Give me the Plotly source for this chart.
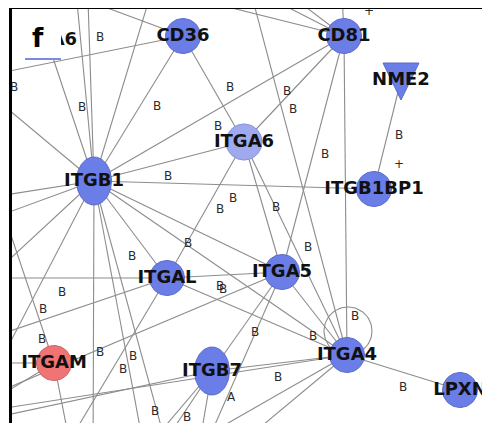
import numpy as np
import plotly.graph_objects as go

# ---------------- data: network layout (y grows downward) ----------------
node_names = ["CD36", "CD81", "NME2", "ITGA6", "ITGB1", "ITGB1BP1", "ITGAL",
              "ITGA5", "ITGAM", "ITGB7", "ITGA4", "LPXN", "ITGA6_b"]
node_labels = ["CD36", "CD81", "NME2", "ITGA6", "ITGB1", "ITGB1BP1", "ITGAL",
               "ITGA5", "ITGAM", "ITGB7", "ITGA4", "LPXN", "ITGA6"]
node_x = [183, 344, 401, 244, 94, 374, 167, 282, 54, 212, 347, 460, 47]
node_y = [36, 36, 80, 142, 181, 189, 278, 272, 363, 371, 355, 390, 40]
node_group = ["up", "up", "tri", "light", "up", "up", "up", "up", "down",
              "up", "up", "up", "hidden"]

# neighbours lying outside the visible window
outer_names = ["gT1", "gT2", "gT3", "gT4", "gT5", "gT6", "gT7", "gT8", "gT9",
               "gL1", "gL2", "gL3", "gL4", "gL5", "gL6", "gL7", "gL8", "gL9",
               "gL10", "gL11", "gL12", "gL13", "gL14",
               "gB1", "gB2", "gB3", "gB4", "gB5", "gB6", "gB7", "gB8", "gB9",
               "gB10", "gB12"]
outer_x = [74, 87, 158, 5, 80, 215, 257, 341, 245,
           -40, -40, -40, -40, -40, -40, -40, -40, -10,
           -40, -40, -40, -40, -40,
           93, 148, 52, 75, 128, 146, 195, 146, 209,
           195, 173]
outer_y = [-30, -30, -30, -30, -30, -30, -30, -30, -30,
           81, 69, 202, 230, 305, 278, 348, 363, 173,
           408, 415, 425, 439, 420,
           470, 470, 470, 470, 470, 470, 470, 470, 470,
           470, 470]

edge_source = ["CD36", "CD36", "CD36", "CD36",
               "CD81", "CD81", "CD81", "CD81", "CD81", "CD81", "CD81", "CD81",
               "NME2",
               "ITGB1", "ITGB1", "ITGB1", "ITGB1", "ITGB1",
               "ITGB1", "ITGB1", "ITGB1", "ITGB1", "ITGB1", "ITGB1", "ITGB1",
               "ITGB1", "ITGB1", "ITGB1", "ITGB1", "ITGB1",
               "ITGA6", "ITGA6", "ITGA6",
               "ITGAL", "ITGAL", "ITGAL", "ITGAL", "ITGAL",
               "ITGA5", "ITGA5", "ITGA5", "ITGA5",
               "ITGAM", "ITGAM", "ITGAM", "ITGAM",
               "ITGB7", "ITGB7", "ITGB7", "ITGB7", "ITGB7",
               "ITGA4", "ITGA4", "ITGA4", "ITGA4", "ITGA4"]
edge_target = ["ITGB1", "ITGA6", "gL1", "gT4",
               "ITGA6", "ITGB1", "ITGA5", "ITGA4", "gT5", "gT6", "gT7", "gT8",
               "ITGB1BP1",
               "ITGB1BP1", "ITGA6", "ITGAL", "ITGA5", "ITGA4",
               "gT1", "gT2", "gT3", "gL2", "gL3", "gL4", "gL5",
               "gL13", "gB1", "gB2", "gB12", "ITGA6_b",
               "ITGAL", "ITGA5", "ITGA4",
               "ITGA5", "ITGA4", "gL6", "gL7", "gB3",
               "ITGB7", "ITGA4", "gL10", "gB10",
               "gL8", "gL9", "gB4", "gL14",
               "ITGA4", "gL12", "gB5", "gB6", "gB7",
               "LPXN", "gT9", "gL11", "gB8", "gB9"]
self_loops = ["ITGA4"]

edge_label_text = ["B", "B", "B", "B", "B", "B", "B", "B", "B", "B", "+", "+",
                   "B", "B", "B", "B", "B", "B", "B",
                   "B", "B", "B", "B", "B", "B", "B", "B", "A",
                   "B", "B", "B", "B", "B", "B", "B"]
edge_label_x = [100, 14, 82, 157, 230, 218, 287, 293, 325, 399, 399, 369,
                168, 233, 220, 188, 132, 276, 308,
                62, 43, 42, 100, 133, 123, 155, 187, 231,
                220, 223, 255, 313, 278, 355, 403]
edge_label_y = [38, 88, 108, 107, 88, 127, 92, 110, 155, 136, 165, 12,
                177, 199, 210, 244, 257, 208, 248,
                293, 310, 340, 353, 357, 370, 412, 418, 398,
                287, 290, 333, 337, 378, 317, 388]

# ---------------- styles ----------------
group_fill = {"up": "#6b7de6", "light": "#9ea9ee", "down": "#f07474",
              "tri": "#6b7de6", "hidden": "rgba(0,0,0,0)"}
group_line = {"up": "#5a6ac8", "light": "#8490d8", "down": "#c86464",
              "tri": "#5a6ac8", "hidden": "rgba(0,0,0,0)"}
radius = {"ITGB1": (17.5, 24), "ITGB7": (17.5, 24), "ITGA6": (18, 18)}
default_r = (17.5, 17.5)
edge_color = "#8c8c8c"

pos = {n: (x, y) for n, x, y in zip(node_names, node_x, node_y)}
pos.update({n: (x, y) for n, x, y in zip(outer_names, outer_x, outer_y)})

fig = go.Figure()

# edges
ex, ey = [], []
for s, t in zip(edge_source, edge_target):
    ex += [pos[s][0], pos[t][0], None]
    ey += [pos[s][1], pos[t][1], None]
fig.add_trace(go.Scatter(x=ex, y=ey, mode="lines",
                         line=dict(color=edge_color, width=1.1),
                         hoverinfo="skip"))

# self loops
tt = np.linspace(0, 2 * np.pi, 80)
for n in self_loops:
    cx, cy = pos[n]
    fig.add_trace(go.Scatter(x=cx + 1 + 24 * np.cos(tt),
                             y=cy - 24 + 24 * np.sin(tt), mode="lines",
                             line=dict(color=edge_color, width=1.1),
                             hoverinfo="skip"))

# nodes
for n, g in zip(node_names, node_group):
    cx, cy = pos[n]
    if g == "hidden":
        continue
    if g == "tri":
        px = [cx - 18, cx + 18, cx, cx - 18]
        py = [cy - 17, cy - 17, cy + 20, cy - 17]
    else:
        rx, ry = radius.get(n, default_r)
        px = cx + rx * np.cos(tt)
        py = cy + ry * np.sin(tt)
    fig.add_trace(go.Scatter(x=px, y=py, mode="lines", fill="toself",
                             fillcolor=group_fill[g],
                             line=dict(color=group_line[g], width=1),
                             hoverinfo="skip"))

# edge labels
fig.add_trace(go.Scatter(x=edge_label_x, y=edge_label_y, mode="text",
                         text=edge_label_text,
                         textfont=dict(family="DejaVu Sans", size=12,
                                       color="#2a2a2a"),
                         hoverinfo="skip"))

# node labels
fig.add_trace(go.Scatter(x=node_x, y=node_y, mode="text",
                         text=["<b>%s</b>" % l for l in node_labels],
                         textposition="middle center",
                         textfont=dict(family="DejaVu Sans", size=18,
                                       color="#111111"),
                         hoverinfo="skip"))

# the page body adds an 8 px offset, so the figure covers the rest of the
# window and its plot area starts at window pixel (12, 9)
fig.update_layout(
    width=482, height=415,
    margin=dict(l=4, r=0, t=1, b=0),
    paper_bgcolor="white", plot_bgcolor="white",
    showlegend=False,
    xaxis=dict(range=[12, 490], showgrid=False, zeroline=False,
               showticklabels=False, ticks="", showline=True,
               linecolor="black", linewidth=3, side="top", fixedrange=True),
    yaxis=dict(range=[423, 9], showgrid=False, zeroline=False,
               showticklabels=False, ticks="", showline=True,
               linecolor="black", linewidth=3, side="left", fixedrange=True),
    shapes=[
        dict(type="rect", xref="x", yref="y", x0=14, x1=61, y0=14, y1=60,
             fillcolor="white", line=dict(width=0), layer="above"),
        dict(type="line", xref="x", yref="y", x0=25, x1=61, y0=59, y1=59,
             line=dict(color="#7b89e0", width=2), layer="above"),
    ],
    annotations=[
        dict(x=38, y=38, xref="x", yref="y", text="<b>f</b>",
             showarrow=False, font=dict(family="DejaVu Sans", size=26,
                                        color="black"))
    ],
)

fig.write_html("out.html")
